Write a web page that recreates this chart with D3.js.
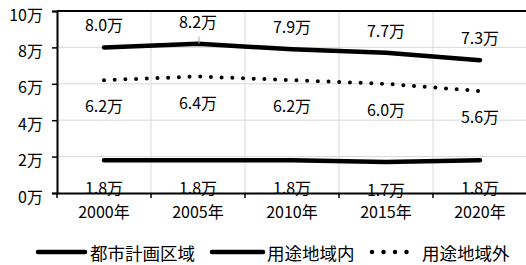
<!DOCTYPE html>
<html><head><meta charset="utf-8">
<script src="https://cdn.jsdelivr.net/npm/d3@7/dist/d3.min.js"></script>
<style>
body{margin:0;background:#fff;}
text{font-family:"Noto Sans CJK JP","Noto Sans",sans-serif;fill:#000;}
</style></head>
<body><svg id="c" width="526" height="265"></svg>
<script>
const years = ["2000年","2005年","2010年","2015年","2020年"];
const total = [8.0, 8.2, 7.9, 7.7, 7.3];      // 都市計画区域
const inside = [1.8, 1.8, 1.8, 1.7, 1.8];     // 用途地域内
const outside = [6.2, 6.4, 6.2, 6.0, 5.6];    // 用途地域外
const yTicks = [0, 2, 4, 6, 8, 10];
const seriesNames = ["都市計画区域", "用途地域内", "用途地域外"];

const svg = d3.select("#c");
const L = 57, R = 527, T = 11, B = 193;
const x = d3.scaleBand().domain(years).range([L, R]).padding(0);
const y = d3.scaleLinear().domain([0, 10]).range([B, T]);
const cx = d => x(d) + x.bandwidth() / 2;

// gridlines
svg.append("g").selectAll("line").data(yTicks.filter(v => v > 0 && v < 10)).join("line")
  .attr("x1", L).attr("x2", 526).attr("y1", d => y(d)).attr("y2", d => y(d))
  .attr("stroke", "#d9d9d9").attr("stroke-width", 1);
svg.append("g").selectAll("line").data(years.slice(1)).join("line")
  .attr("x1", d => x(d)).attr("x2", d => x(d)).attr("y1", T).attr("y2", B)
  .attr("stroke", "#d9d9d9").attr("stroke-width", 1);
// top border
svg.append("line").attr("x1", L).attr("x2", 526).attr("y1", y(10)).attr("y2", y(10))
  .attr("stroke", "#000").attr("stroke-width", 2);

// y axis
const ya = svg.append("g").attr("transform", `translate(${L},0)`)
  .call(d3.axisLeft(y).tickValues(yTicks).tickFormat(d => d + "万").tickSize(5).tickPadding(9));
ya.select(".domain").attr("stroke", "#000").attr("stroke-width", 2);
ya.selectAll(".tick line").attr("stroke", "#000").attr("stroke-width", 1.5);
ya.selectAll(".tick text").style("font-size", "16px").attr("fill", "#000")
  .attr("y", 2).attr("dy", null).attr("dominant-baseline", "central");

// x axis
const xa = svg.append("g").attr("transform", `translate(0,${B})`)
  .call(d3.axisBottom(x).tickSize(0).tickPadding(14));
xa.select(".domain").attr("stroke", "#000").attr("stroke-width", 2);
xa.selectAll(".tick text").style("font-size", "16px").attr("fill", "#000");
xa.selectAll(".bt").data(years.map(d => x(d)).concat([R])).join("line")
  .attr("x1", d => d).attr("x2", d => d).attr("y1", 0).attr("y2", 5)
  .attr("stroke", "#000").attr("stroke-width", 1.5);

// lines
const line = d3.line().x((d, i) => cx(years[i])).y(d => y(d));
svg.append("path").datum(total).attr("d", line).attr("fill", "none")
  .attr("stroke", "#000").attr("stroke-width", 4.5).attr("stroke-linecap", "round");
svg.append("path").datum(inside).attr("d", line).attr("fill", "none")
  .attr("stroke", "#000").attr("stroke-width", 4.5).attr("stroke-linecap", "round");
svg.append("path").datum(outside).attr("d", line).attr("fill", "none")
  .attr("stroke", "#000").attr("stroke-width", 4).attr("stroke-linecap", "round")
  .attr("stroke-dasharray", "0 10.7");

// leader line for 2005 total label
svg.append("line").attr("x1", cx(years[1]) + 1).attr("x2", cx(years[1]) + 1)
  .attr("y1", y(total[1]) - 7).attr("y2", y(total[1]))
  .attr("stroke", "#a6a6a6").attr("stroke-width", 1);

// labels
const fmt = v => v.toFixed(1) + "万";
function labels(data, dy) {
  svg.append("g").selectAll("text").data(data).join("text")
    .attr("x", (d, i) => cx(years[i])).attr("y", d => y(d) + dy)
    .attr("text-anchor", "middle").attr("dominant-baseline", "central")
    .style("font-size", "16px").text(fmt);
}
labels(total, -23);
labels(outside, 25);
labels(inside, 27);

// legend
const lg = svg.append("g").attr("transform", "translate(0,252)");
const items = [
  {name: seriesNames[0], x0: 38, x1: 85, tx: 90, dash: null, w: 4.5},
  {name: seriesNames[1], x0: 212, x1: 263, tx: 267, dash: null, w: 4.5},
  {name: seriesNames[2], x0: 372, x1: 418, tx: 422, dash: "0 11.5", w: 4.5}
];
items.forEach(it => {
  const l = lg.append("line").attr("x1", it.x0).attr("x2", it.x1).attr("y1", 0).attr("y2", 0)
    .attr("stroke", "#000").attr("stroke-width", it.w).attr("stroke-linecap", "round");
  if (it.dash) l.attr("stroke-dasharray", it.dash);
  lg.append("text").attr("x", it.tx).attr("y", 0).attr("dominant-baseline", "central")
    .style("font-size", "17.5px").text(it.name);
});
</script></body></html>
